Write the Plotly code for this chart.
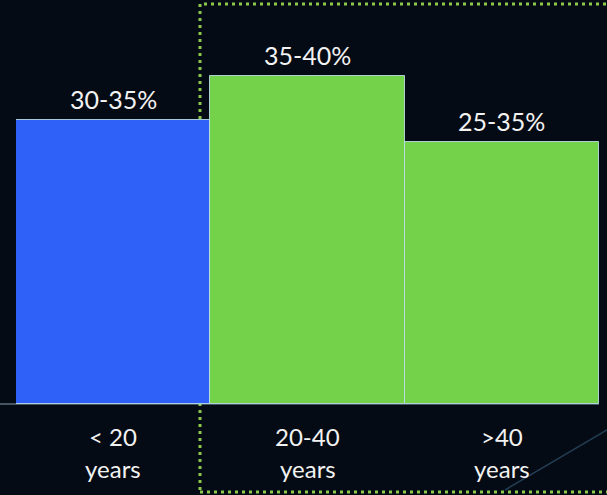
import plotly.graph_objects as go

categories = ["< 20", "20-40", ">40"]
sublabels = ["years", "years", "years"]
values = [32.5, 37.5, 30.0]
range_labels = ["30-35%", "35-40%", "25-35%"]
bar_colors = ["#2f60f7", "#74d14a", "#74d14a"]

W, H = 607, 495
ml, mr, mt, mb = 16, 8, 20, 91
ymax = 43.94
FONT = "Lato, Noto Sans, sans-serif"

fig = go.Figure()
fig.add_trace(go.Bar(
    x=categories, y=values, width=1.0,
    marker=dict(color=bar_colors, line=dict(color="rgba(190,225,235,0.85)", width=1)),
    hoverinfo="skip",
))

pw = W - ml - mr
ph = H - mt - mb

def px_x(p):
    return (p - ml) / pw

def px_y(p):
    return (H - mb - p) / ph

annotations = []
for c, v, t in zip(categories, values, range_labels):
    annotations.append(dict(x=c, y=v, xref="x", yref="y", text=t, showarrow=False,
                            yanchor="bottom", yshift=4,
                            font=dict(family=FONT, size=25, color="#f2f2f2")))
for c, s in zip(categories, sublabels):
    annotations.append(dict(x=c, y=0, xref="x", yref="paper", text=c, showarrow=False,
                            yanchor="middle", yshift=-32,
                            font=dict(family=FONT, size=24, color="#f2f2f2")))
    annotations.append(dict(x=c, y=0, xref="x", yref="paper", text=s, showarrow=False,
                            yanchor="middle", yshift=-64,
                            font=dict(family=FONT, size=24, color="#f2f2f2")))

shapes = [
    # dotted highlight frame (behind bars)
    dict(type="rect", xref="paper", yref="paper",
         x0=px_x(200), x1=px_x(614), y0=px_y(492), y1=px_y(4),
         line=dict(color="#8cc84b", width=3, dash="3px,4px"), fillcolor="rgba(0,0,0,0)", layer="below"),
    # baseline extending to the left edge
    dict(type="line", xref="paper", yref="paper",
         x0=px_x(0), x1=px_x(599), y0=0, y1=0,
         line=dict(color="rgba(180,215,230,0.75)", width=1), layer="above"),
    # faint decorative streak
    dict(type="line", xref="paper", yref="paper",
         x0=px_x(505), x1=px_x(607), y0=px_y(490), y1=px_y(430),
         line=dict(color="rgba(80,140,180,0.4)", width=1.5), layer="below"),
]

fig.update_layout(
    width=W, height=H,
    margin=dict(l=ml, r=mr, t=mt, b=mb, pad=0),
    paper_bgcolor="#050b14", plot_bgcolor="rgba(0,0,0,0)",
    bargap=0, showlegend=False,
    xaxis=dict(showticklabels=False, showgrid=False, zeroline=False, showline=False, ticks=""),
    yaxis=dict(range=[0, ymax], visible=False, showgrid=False, zeroline=False),
    annotations=annotations, shapes=shapes,
)

fig.write_html("out.html")
